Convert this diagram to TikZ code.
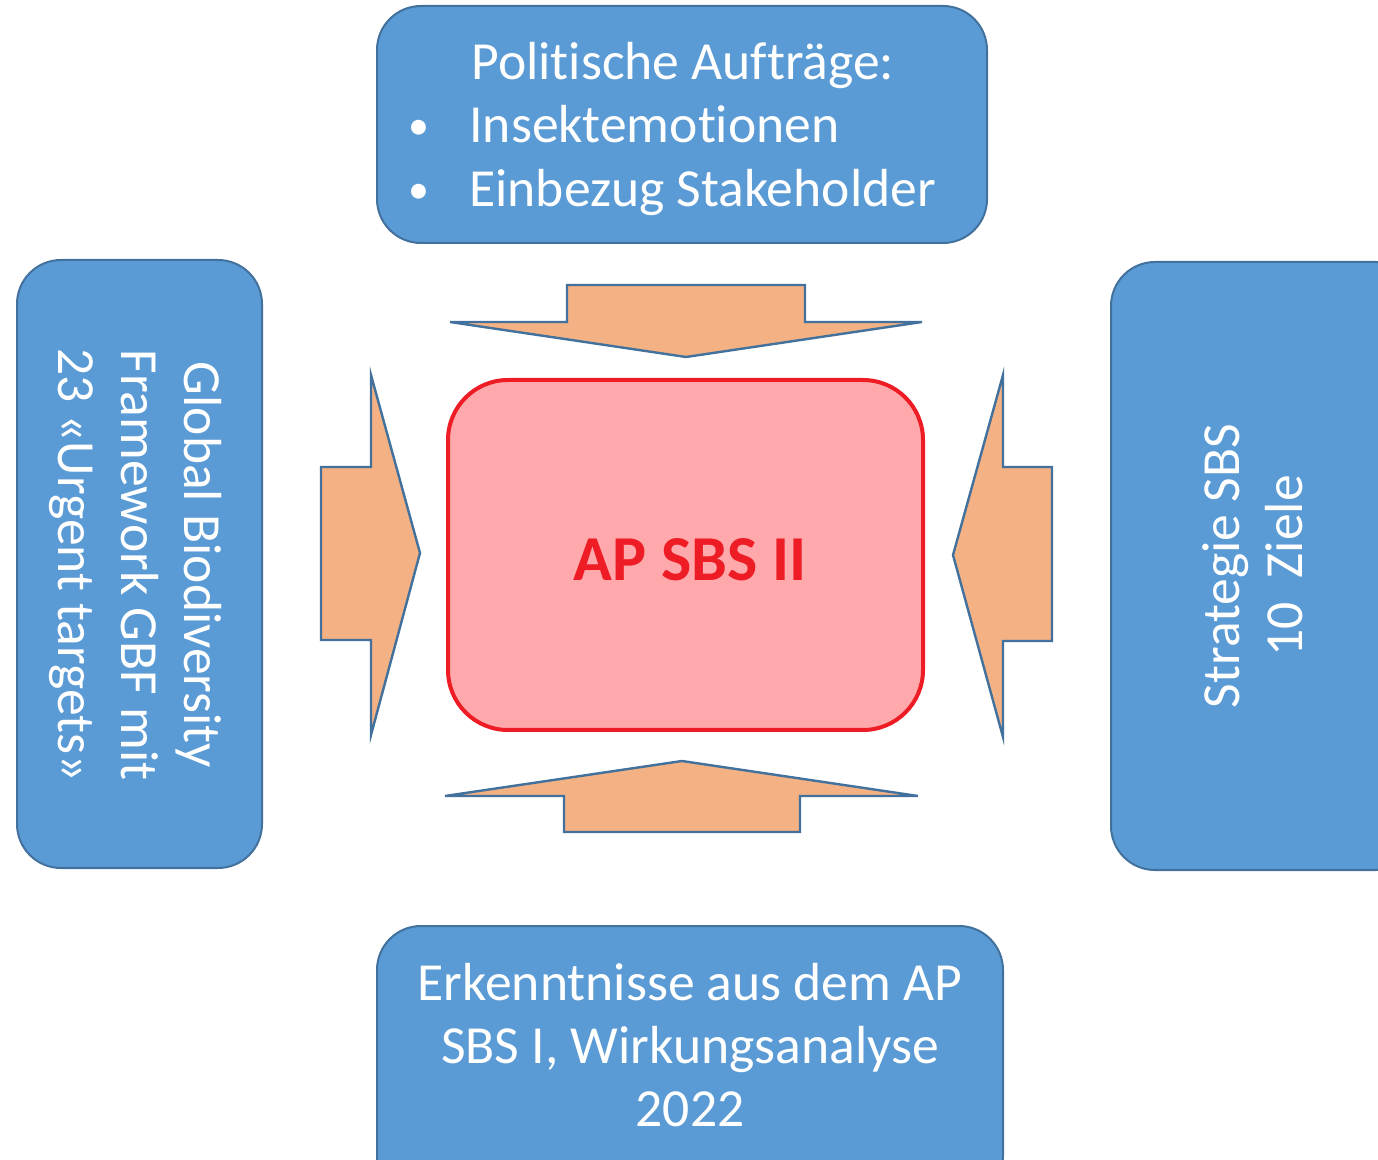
\documentclass[tikz,border=0pt]{standalone}
\usepackage{fontspec}
\setmainfont[RawFeature={-liga;-clig;-calt;-dlig}]{Carlito}
\definecolor{boxblue}{HTML}{5B9BD5}
\definecolor{edgeblue}{HTML}{41719C}
\definecolor{arroworange}{HTML}{F4B183}
\definecolor{pinkfill}{HTML}{FFA9AC}
\definecolor{redline}{HTML}{EE1C25}
\tikzset{
  bluebox/.style={fill=boxblue, draw=edgeblue, line width=1pt, rounded corners=22pt},
  centerbox/.style={fill=pinkfill, draw=redline, line width=2pt, rounded corners=30pt},
  bigarrow/.style={fill=arroworange, draw=edgeblue, line width=1.2pt},
  boxtext/.style={text=white, inner sep=0pt, font=\fontsize{26.8}{31.5}\selectfont},
}
\begin{document}
\begin{tikzpicture}[x=0.5pt,y=-0.5pt]
\useasboundingbox (0,0) rectangle (1378,1160);
\clip (0,0) rectangle (1378,1160);
% boxes
\draw[bluebox] (377,6) rectangle (987,243);
\draw[bluebox] (17,260) rectangle (262,868);
\draw[bluebox] (1111,262) rectangle (1420,870);
\draw[bluebox] (377,926) rectangle (1003,1200);
\draw[centerbox] (448,380) rectangle (923,730);
% arrows
\draw[bigarrow] (567,285) -- (805,285) -- (805,322) -- (922,322) -- (686,357) -- (450,322) -- (567,322) -- cycle;
\draw[bigarrow] (564,832) -- (800,832) -- (800,796) -- (918,796) -- (682,761) -- (445,796) -- (564,796) -- cycle;
\draw[bigarrow] (321,467) -- (371,467) -- (371,375) -- (420,553) -- (371,735) -- (371,640) -- (321,640) -- cycle;
\draw[bigarrow] (1052,467) -- (1003,467) -- (1003,375) -- (953,555) -- (1003,737) -- (1003,641) -- (1052,641) -- cycle;
% texts
\node[boxtext, anchor=base west] (t1) at (471,80) {Politische Aufträge:};
\node[boxtext, anchor=base west] (t2) at (469,143) {Insektemotionen};
\node[boxtext, anchor=base west] (t3) at (469,207) {Einbezug Stakeholder};
\node[boxtext, anchor=base, font=\fontsize{21}{25}\selectfont] (b2) at (419,140) {•};
\node[boxtext, anchor=base, font=\fontsize{21}{25}\selectfont] (b3) at (419,204) {•};
\node[boxtext, align=center] (bottom) at (690,1045) {Erkenntnisse aus dem AP\\SBS I, Wirkungsanalyse\\2022};
\node[boxtext, align=center, rotate=-90] (left) at (136,565) {Global Biodiversity\\Framework GBF mit\\23 «Urgent targets»};
\node[boxtext, align=center, rotate=90] (right) at (1253,566) {Strategie SBS\\10~~Ziele};
\node[text=redline, inner sep=0pt, font=\fontsize{32}{38}\selectfont\bfseries] (center) at (690,560) {AP SBS II};
\end{tikzpicture}
\end{document}
